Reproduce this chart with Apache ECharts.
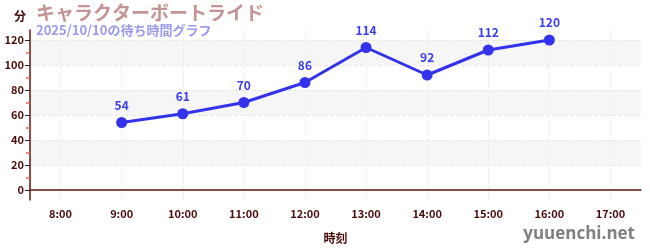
<!DOCTYPE html>
<html><head><meta charset="utf-8">
<script src="https://cdn.jsdelivr.net/npm/echarts@6/dist/echarts.min.js"></script>
<style>html,body{margin:0;padding:0;background:#fff}#c{width:650px;height:250px}</style>
</head><body><div id="c"></div>
<script>
const categories = ['8:00','9:00','10:00','11:00','12:00','13:00','14:00','15:00','16:00','17:00'];
const waitTimes = [null,54,61,70,86,114,92,112,120,null];
const yTicks = [0,20,40,60,80,100,120];
const titleText = 'キャラクターボートライド';
const subText = '2025/10/10の待ち時間グラフ';
const yName = '分';
const xName = '時刻';
const watermark = 'yuuenchi.net';

const FONT = '"Noto Sans CJK JP","Noto Sans",sans-serif';
const AX = '#4a0a0a';
const chart = echarts.init(document.getElementById('c'), null, {renderer:'canvas'});
chart.setOption({
  animation:false,
  textStyle:{fontFamily:FONT},
  title:{text:titleText, subtext:subText, left:31, top:-2, itemGap:2,
    textStyle:{fontFamily:FONT, fontSize:19, fontWeight:'bold', color:'#c49494'},
    subtextStyle:{fontFamily:FONT, fontSize:13, fontWeight:'bold', color:'#9a9aee'}},
  graphic:[{type:'text', right:15, bottom:7, style:{text:watermark, fontFamily:'"Open Sans","Noto Sans",sans-serif', fontSize:17, fontWeight:'bold', fill:'#808080'}}],
  grid:[
    {left:30, right:9, top:30, bottom:50},
    {left:30, right:9, top:40, bottom:60}
  ],
  xAxis:[
    {type:'category', gridIndex:0, data:categories, boundaryGap:true,
     name:xName, nameLocation:'middle', nameGap:32,
     nameTextStyle:{fontFamily:FONT, fontSize:12, fontWeight:'bold', color:AX},
     axisLine:{lineStyle:{color:'#6b0f0f', width:1.5}},
     axisTick:{alignWithLabel:true, length:5, lineStyle:{color:'#888', width:2}},
     axisLabel:{fontFamily:FONT, fontSize:11, fontWeight:'bold', color:AX, margin:8},
     splitLine:{show:true, alignWithLabel:true, lineStyle:{color:'#eee', type:'dashed'}}},
    {type:'category', gridIndex:1, data:categories, boundaryGap:true, show:false}
  ],
  yAxis:[
    {type:'value', gridIndex:0, min:-8, max:128,
     name:yName, nameLocation:'end', nameGap:8,
     nameTextStyle:{fontFamily:FONT, fontSize:12, fontWeight:'bold', color:AX, align:'right', padding:[0,4,0,0]},
     axisLine:{show:true, lineStyle:{color:'#6b0f0f', width:1.5}},
     axisTick:{show:false}, axisLabel:{show:false}, splitLine:{show:false}},
    {type:'value', gridIndex:1, min:yTicks[0], max:yTicks[yTicks.length-1], interval:20,
     axisLine:{show:false},
     axisTick:{show:true, length:5, lineStyle:{color:'#222'}},
     minorTick:{show:true, splitNumber:2, length:4, lineStyle:{color:'#f06060', width:1.5}},
     axisLabel:{fontFamily:FONT, fontSize:11, fontWeight:'bold', color:AX, margin:6},
     splitLine:{show:true, lineStyle:{color:'#e8e8e8', type:'dashed'}},
     splitArea:{show:true, areaStyle:{color:['rgba(255,255,255,0)','#f6f6f6']}}}
  ],
  series:[{
    type:'line', xAxisIndex:1, yAxisIndex:1, data:waitTimes,
    symbol:'circle', symbolSize:11,
    lineStyle:{color:'#3333ee', width:3},
    itemStyle:{color:'#3333ee'},
    label:{show:true, position:'top', distance:6, fontFamily:FONT, fontSize:12, fontWeight:'bold', color:'#3b3bee'}
  }]
});
</script></body></html>
